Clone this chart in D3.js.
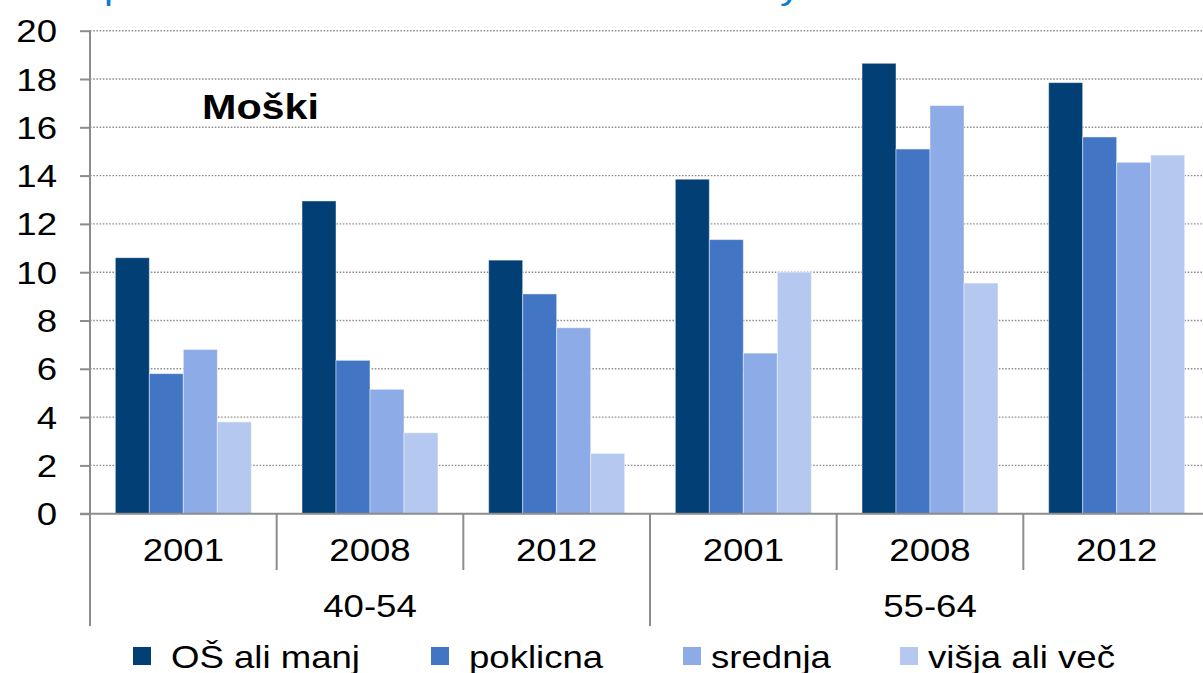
<!DOCTYPE html>
<html>
<head>
<meta charset="utf-8">
<script src="https://cdn.jsdelivr.net/npm/d3@7"></script>
<style>
  html, body { margin: 0; padding: 0; background: #fff; }
  svg { display: block; font-family: "Liberation Sans", Arial, sans-serif; }
</style>
</head>
<body>
<svg id="chart" width="1203" height="673"></svg>
<script>
// Data
const ages = ['40-54', '55-64'];
const years = ['2001', '2008', '2012'];
const seriesNames = ['OŠ ali manj', 'poklicna', 'srednja', 'višja ali več'];
const osAliManj = [10.6, 12.95, 10.5, 13.85, 18.65, 17.85];
const poklicna  = [5.8, 6.35, 9.1, 11.35, 15.1, 15.6];
const srednja   = [6.8, 5.15, 7.7, 6.65, 16.9, 14.55];
const visja     = [3.8, 3.35, 2.5, 10.0, 9.55, 14.85];
const yTicks = [0, 2, 4, 6, 8, 10, 12, 14, 16, 18, 20];

const colors = ['#023f75', '#4276c4', '#8dabe6', '#b5c9f0'];
const seriesValues = [osAliManj, poklicna, srednja, visja];

// categories: age x year
const cats = [];
ages.forEach(a => years.forEach(yr => cats.push(a + '|' + yr)));

const svg = d3.select('#chart');
const SX = 1.18;  // the original is stretched horizontally
const plotL = 90, plotR = 1210, plotT = 30.7, plotB = 513.7;

const x0 = d3.scaleBand().domain(cats).range([plotL, plotR]).padding(0);
const x1 = d3.scaleBand().domain(seriesNames).range([0, x0.bandwidth()]).paddingInner(0).paddingOuter(0.745);
const y = d3.scaleLinear().domain([0, 20]).range([plotB, plotT]);

function label(g, txt, x, yy, opts = {}) {
  return g.append('text')
    .attr('transform', `translate(${x},${yy}) scale(${SX},1)`)
    .attr('text-anchor', opts.anchor || 'middle')
    .attr('font-size', opts.size || 31)
    .attr('font-weight', opts.weight || 'normal')
    .attr('fill', opts.fill || '#000')
    .text(txt);
}

// cut-off title (only descenders visible)
label(svg, 'p', 104, -1, { anchor: 'start', size: 34, fill: '#0a7ccc' });
label(svg, 'y', 780, -1, { anchor: 'start', size: 34, fill: '#0a7ccc' });

// gridlines
svg.append('g').selectAll('line')
  .data(yTicks.filter(d => d > 0))
  .join('line')
  .attr('x1', plotL).attr('x2', plotR)
  .attr('y1', d => y(d)).attr('y2', d => y(d))
  .attr('stroke', '#8f8f8f').attr('stroke-width', 1.4)
  .attr('stroke-dasharray', '1.6,1.6');

// y axis
const yAxis = svg.append('g')
  .attr('transform', `translate(${plotL},0)`)
  .call(d3.axisLeft(y).tickValues(yTicks).tickSize(10).tickSizeOuter(0).tickPadding(22));
yAxis.select('.domain').remove();
yAxis.selectAll('.tick line').attr('stroke', '#8c8c8c').attr('stroke-width', 2);
yAxis.selectAll('.tick text').remove();
yAxis.selectAll('.tick').each(function (d) {
  label(d3.select(this), d, -33, 11, { anchor: 'end' });
});

// bars
const barG = svg.append('g');
seriesValues.forEach((vals, si) => {
  barG.append('g').selectAll('rect')
    .data(vals.map((v, i) => ({ v, cat: cats[i] })))
    .join('rect')
    .attr('x', d => x0(d.cat) + x1(seriesNames[si]))
    .attr('width', x1.bandwidth())
    .attr('y', d => y(d.v))
    .attr('height', d => y(0) - y(d.v))
    .attr('fill', colors[si])
    .attr('stroke', 'rgba(255,255,255,0.45)')
    .attr('stroke-width', 1);
});

// category axis lines
const axG = svg.append('g').attr('stroke', '#8c8c8c').attr('stroke-width', 2);
axG.append('line').attr('x1', 80).attr('x2', plotR).attr('y1', plotB).attr('y2', plotB);
axG.append('line').attr('x1', plotL).attr('x2', plotL).attr('y1', plotT).attr('y2', plotB);
cats.forEach((c, i) => {
  const xx = x0(c);
  const isGroup = i % years.length === 0;
  axG.append('line').attr('x1', xx).attr('x2', xx)
    .attr('y1', plotB).attr('y2', isGroup ? 626 : 570);
});
axG.append('line').attr('x1', plotR).attr('x2', plotR).attr('y1', plotB).attr('y2', 626);

// year labels
cats.forEach(c => {
  label(svg, c.split('|')[1], x0(c) + x0.bandwidth() / 2, 561);
});
// age labels
ages.forEach(a => {
  const first = x0(a + '|' + years[0]);
  const last = x0(a + '|' + years[years.length - 1]) + x0.bandwidth();
  label(svg, a, (first + last) / 2, 617);
});

// "Moški"
label(svg, 'Moški', 202, 119, { anchor: 'start', size: 35, weight: 'bold' });

// legend
const legX = [133, 431, 683, 900];
const legend = svg.append('g');
seriesNames.forEach((s, i) => {
  legend.append('rect')
    .attr('x', legX[i]).attr('y', 647)
    .attr('width', 18).attr('height', 18)
    .attr('fill', colors[i]);
  label(legend, s, legX[i] + (i < 2 ? 38 : 28), 668, { anchor: 'start' });
});
</script>
</body>
</html>
